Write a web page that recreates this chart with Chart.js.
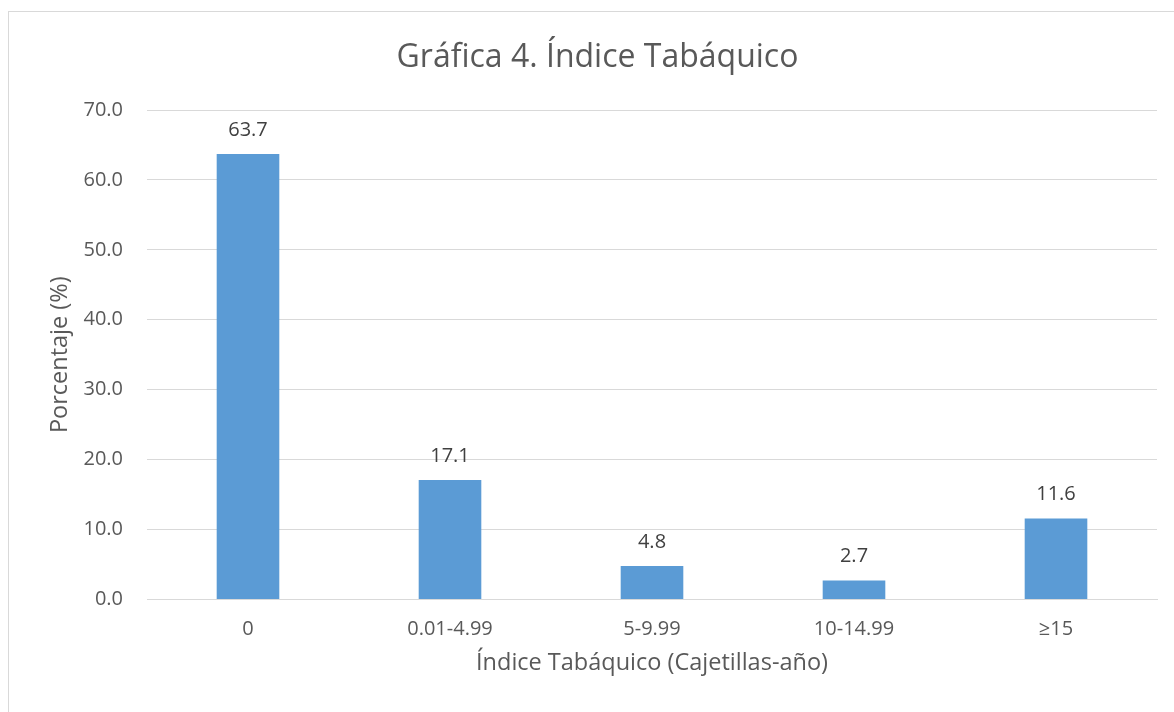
<!DOCTYPE html>
<html lang="es">
<head>
    <meta charset="UTF-8">
    <title>Gráfica 4. Índice Tabáquico</title>
    <script src="https://cdn.jsdelivr.net/npm/chart.js"></script>
    <style>
        body {
            margin: 0;
            background: #fff;
            overflow: hidden;
        }
        .frame {
            position: absolute;
            left: 8px;
            top: 11px;
            width: 1200px;
            height: 760px;
            border: 1px solid #d9d9d9;
        }
        .chart-box {
            position: absolute;
            left: 0;
            top: 0;
            width: 1174px;
            height: 712px;
        }
    </style>
</head>
<body>
    <div class="frame"></div>
    <div class="chart-box">
        <canvas id="chart"></canvas>
    </div>

    <script>
        const categories = ['0', '0.01-4.99', '5-9.99', '10-14.99', '≥15'];
        const percentages = [63.7, 17.1, 4.8, 2.7, 11.6];
        const yTicks = [0, 10, 20, 30, 40, 50, 60, 70];

        const FONT = "'Open Sans', sans-serif";

        // value labels above each bar (no datalabels plugin available)
        const barLabels = {
            id: 'barLabels',
            afterDatasetsDraw(chart) {
                const ctx = chart.ctx;
                const meta = chart.getDatasetMeta(0);
                ctx.save();
                ctx.font = '20px ' + FONT;
                ctx.fillStyle = '#404040';
                ctx.textAlign = 'center';
                ctx.textBaseline = 'middle';
                meta.data.forEach((bar, i) => {
                    ctx.fillText(percentages[i].toFixed(1), bar.x, bar.y - 24);
                });
                ctx.restore();
            }
        };

        new Chart(document.getElementById('chart'), {
            type: 'bar',
            data: {
                labels: categories,
                datasets: [{
                    data: percentages,
                    backgroundColor: '#5b9bd5',
                    categoryPercentage: 1,
                    barPercentage: 0.31
                }]
            },
            options: {
                responsive: true,
                maintainAspectRatio: false,
                animation: false,
                layout: { padding: { left: 38, right: 17, top: 0, bottom: 0 } },
                plugins: {
                    legend: { display: false },
                    tooltip: { enabled: false },
                    title: {
                        display: true,
                        text: 'Gráfica 4. Índice Tabáquico',
                        color: '#595959',
                        font: { family: FONT, size: 32, weight: 'normal' },
                        padding: { top: 39, bottom: 32.6 }
                    }
                },
                scales: {
                    x: {
                        grid: { display: false, drawTicks: false },
                        border: { display: true, color: '#d9d9d9', width: 1 },
                        ticks: {
                            color: '#595959',
                            font: { family: FONT, size: 20 },
                            padding: 18
                        },
                        title: {
                            display: true,
                            text: 'Índice Tabáquico (Cajetillas-año)',
                            color: '#595959',
                            font: { family: FONT, size: 23.5 },
                            padding: { top: 0, bottom: 35 }
                        },
                        afterFit(scale) { scale.height = 112.5; }
                    },
                    y: {
                        min: 0,
                        max: 70,
                        afterBuildTicks(scale) {
                            scale.ticks = yTicks.map(v => ({ value: v }));
                        },
                        grid: { color: '#d9d9d9', drawTicks: false },
                        border: { display: false },
                        ticks: {
                            color: '#595959',
                            font: { family: FONT, size: 20 },
                            padding: 24,
                            callback: v => v.toFixed(1)
                        },
                        title: {
                            display: true,
                            text: 'Porcentaje (%)',
                            color: '#595959',
                            font: { family: FONT, size: 23.5 },
                            padding: { top: 8, bottom: 0 }
                        },
                        afterFit(scale) { scale.width = 109; }
                    }
                }
            },
            plugins: [barLabels]
        });
    </script>
</body>
</html>
